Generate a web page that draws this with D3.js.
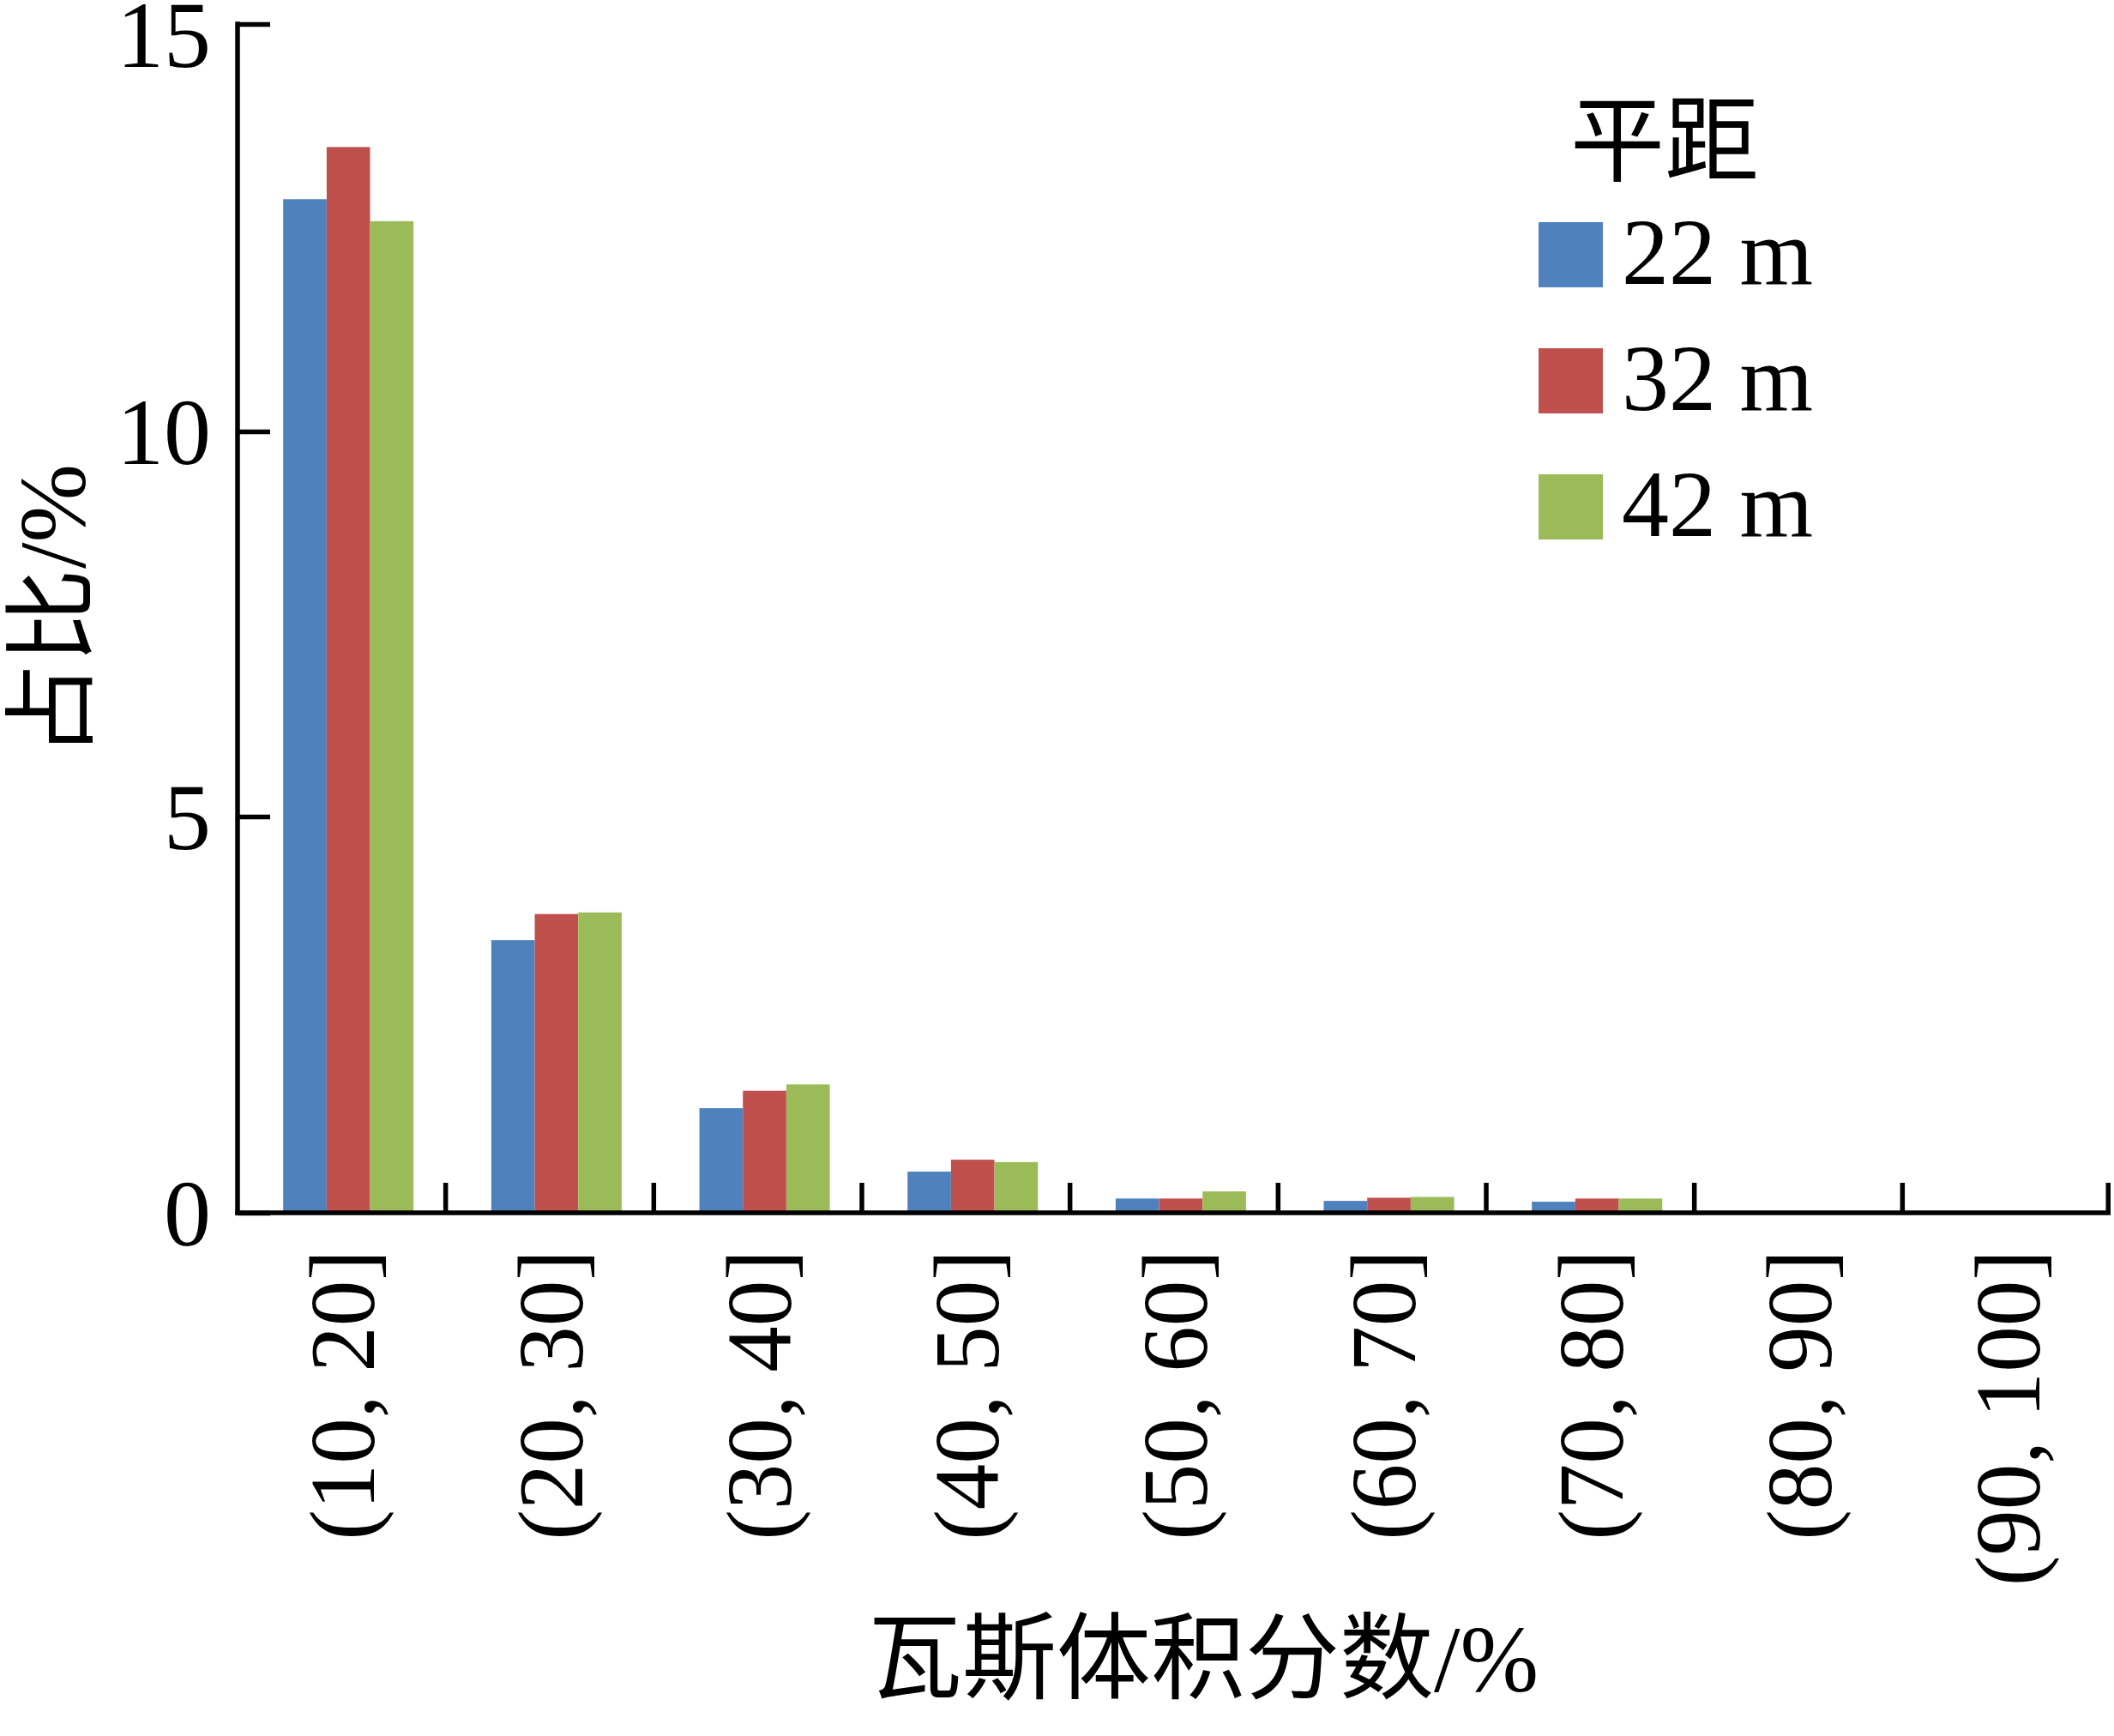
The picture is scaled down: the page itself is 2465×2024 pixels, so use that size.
<!DOCTYPE html>
<html>
<head>
<meta charset="utf-8">
<script src="https://cdn.jsdelivr.net/npm/d3@7"></script>
<style>
  html, body { margin: 0; padding: 0; background: #fff; }
  svg { display: block; }
  text { font-family: "Liberation Serif", "Times New Roman", "Noto Sans CJK SC", serif; fill: #000; }
</style>
</head>
<body>
<svg id="chart" width="2465" height="2024"></svg>
<script>
// ---- data ----
const categories = ["(10, 20]", "(20, 30]", "(30, 40]", "(40, 50]", "(50, 60]", "(60, 70]", "(70, 80]", "(80, 90]", "(90, 100]"];
const seriesNames = ["22 m", "32 m", "42 m"];
const values22 = [12.85, 3.44, 1.32, 0.52, 0.18, 0.15, 0.14, 0, 0];
const values32 = [13.49, 3.77, 1.54, 0.67, 0.18, 0.19, 0.18, 0, 0];
const values42 = [12.58, 3.79, 1.62, 0.64, 0.27, 0.20, 0.18, 0, 0];
const seriesColors = ["#4F81BD", "#C0504D", "#9BBB59"];
const yTickValues = [0, 5, 10, 15];
const yTitle = "占比/%";
const xTitle = "瓦斯体积分数/%";
const legendTitle = "平距";

const seriesValues = [values22, values32, values42];

// ---- layout ----
const svg = d3.select("#chart");
const plotLeft = 277, plotRight = 2461, plotBase = 1414, plotTop = 28;
const fs = 110;
const sw = 5.5;

const y = d3.scaleLinear().domain([0, 5, 10, 15]).range([plotBase, 952, 503, plotTop]);

const x0 = d3.scaleBand().domain(categories).range([plotLeft, plotRight])
  .paddingInner(0.3735).paddingOuter(0.18675).align(0.587);
const x1 = d3.scaleBand().domain(seriesNames).range([0, x0.bandwidth()]);
const step = x0.step();

// bars
const rows = categories.map((c, i) => seriesNames.map((s, j) => ({cat: c, s, v: seriesValues[j][i], j})));
svg.append("g").selectAll("g").data(rows).join("g")
  .attr("transform", d => `translate(${x0(d[0].cat)},0)`)
  .selectAll("rect").data(d => d).join("rect")
  .attr("x", d => x1(d.s))
  .attr("width", x1.bandwidth())
  .attr("y", d => y(d.v))
  .attr("height", d => y(0) - y(d.v))
  .attr("fill", d => seriesColors[d.j]);

// y axis
const yAxis = d3.axisLeft(y).tickValues(yTickValues).tickSizeInner(-38).tickSizeOuter(0).tickPadding(31)
  .tickFormat(d3.format("d"));
const gy = svg.append("g").attr("transform", `translate(${plotLeft},0)`).call(yAxis);
gy.selectAll("path, line").attr("stroke", "#000").attr("stroke-width", sw);
gy.select(".domain").attr("d", `M0,${plotTop - sw / 2}V${plotBase + sw / 2}`);
gy.selectAll("text").attr("font-size", fs).attr("font-family", "Liberation Serif")
  .attr("dy", d => d === 15 ? "0.45em" : "0.34em");

// x axis
const gx = svg.append("g");
gx.append("line").attr("x1", plotLeft - sw / 2).attr("x2", plotRight).attr("y1", plotBase).attr("y2", plotBase)
  .attr("stroke", "#000").attr("stroke-width", sw);
gx.selectAll("line.tick").data(d3.range(1, categories.length + 1)).join("line")
  .attr("class", "tick")
  .attr("x1", i => plotLeft + i * step - (i === categories.length ? sw / 2 : 0))
  .attr("x2", i => plotLeft + i * step - (i === categories.length ? sw / 2 : 0))
  .attr("y1", plotBase).attr("y2", plotBase - 35)
  .attr("stroke", "#000").attr("stroke-width", sw);

gx.selectAll("text").data(categories).join("text")
  .attr("transform", d => `translate(${x0(d) + x0.bandwidth() / 2},1457) rotate(-90)`)
  .attr("text-anchor", "end")
  .attr("dy", "0.28em")
  .attr("font-size", 107)
  .text(d => d);

// axis titles
svg.append("text")
  .attr("transform", `translate(60,712) rotate(-90)`)
  .attr("text-anchor", "middle").attr("dy", "0.35em")
  .attr("font-size", fs)
  .text(yTitle);

svg.append("text")
  .attr("x", 1403).attr("y", 1972)
  .attr("text-anchor", "middle")
  .attr("font-size", fs)
  .text(xTitle);

// legend
const lg = svg.append("g");
lg.append("text").attr("x", 1941).attr("y", 203).attr("text-anchor", "middle")
  .attr("font-size", fs).text(legendTitle);
const items = lg.selectAll("g.item").data(seriesNames).join("g").attr("class", "item")
  .attr("transform", (d, i) => `translate(1794,${259 + i * 147})`);
items.append("rect").attr("width", 75).attr("height", 76).attr("fill", (d, i) => seriesColors[i]);
items.append("text").attr("x", 97).attr("y", 72).attr("font-size", fs).text(d => d);
</script>
</body>
</html>
